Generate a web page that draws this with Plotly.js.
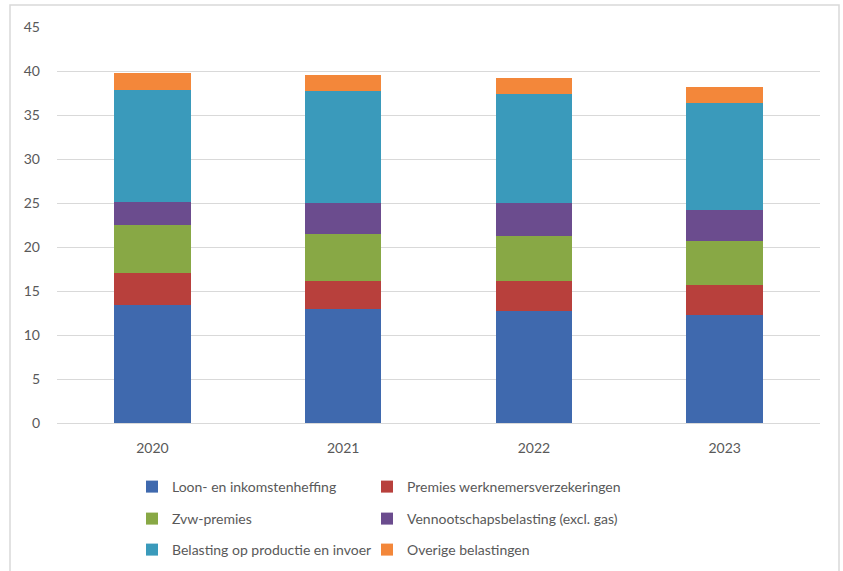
<!DOCTYPE html>
<html>
<head>
<meta charset="utf-8">
<script src="https://cdn.plot.ly/plotly-3.0.1.min.js"></script>
<style>html,body{margin:0;padding:0;background:#fff;}#chart{width:843px;height:571px;}</style>
</head>
<body>
<div id="chart"></div>
<script>
var years = ['2020', '2021', '2022', '2023'];
var loonInkomstenheffing = [13.4, 12.9, 12.7, 12.3];
var premiesWerknemersverzekeringen = [3.6, 3.2, 3.4, 3.35];
var zvwPremies = [5.45, 5.4, 5.1, 5.05];
var vennootschapsbelasting = [2.65, 3.5, 3.8, 3.5];
var belastingProductieInvoer = [12.7, 12.7, 12.4, 12.2];
var overigeBelastingen = [2.0, 1.9, 1.8, 1.8];
var yTicks = [0, 5, 10, 15, 20, 25, 30, 35, 40, 45];

var seriesNames = ['Loon- en inkomstenheffing', 'Premies werknemersverzekeringen', 'Zvw-premies',
  'Vennootschapsbelasting (excl. gas)', 'Belasting op productie en invoer', 'Overige belastingen'];
var seriesValues = [loonInkomstenheffing, premiesWerknemersverzekeringen, zvwPremies,
  vennootschapsbelasting, belastingProductieInvoer, overigeBelastingen];
var colors = ['#3F69AE', '#B8403C', '#88A845', '#6B4C8E', '#3A9ABB', '#F3873A'];
var legendIds = ['legend', 'legend2', 'legend3', 'legend4', 'legend5', 'legend6'];

var traces = seriesNames.map(function (n, i) {
  return {
    type: 'bar', name: n, x: years, y: seriesValues[i],
    marker: {color: colors[i], line: {width: 0}},
    legend: legendIds[i], hoverinfo: 'name+y'
  };
});

var font = {family: 'Lato, "Open Sans", sans-serif', size: 14, color: '#595959'};
function leg(textX, ypx) {
  return {
    orientation: 'v', x: (textX - 39 - 57) / 763, xanchor: 'left',
    y: (423 - ypx) / 396, yanchor: 'middle',
    font: {family: font.family, size: 14, color: '#595959'},
    bgcolor: 'rgba(0,0,0,0)', borderwidth: 0
  };
}

var layout = {
  width: 843, height: 571,
  margin: {l: 57, r: 23, t: 27, b: 148, autoexpand: false},
  barmode: 'stack', bargap: 0.6,
  paper_bgcolor: '#fff', plot_bgcolor: '#fff',
  font: font,
  showlegend: true,
  legend: leg(171, 487), legend2: leg(406, 487),
  legend3: leg(171, 519), legend4: leg(406, 519),
  legend5: leg(171, 550), legend6: leg(406, 550),
  xaxis: {
    type: 'category', showgrid: false, showline: false, zeroline: false,
    ticks: '', ticklabelstandoff: 15, tickfont: {family: font.family, size: 14, color: '#595959'}
  },
  yaxis: {
    range: [0, 45], tickvals: yTicks, showgrid: true, gridcolor: '#D9D9D9', gridwidth: 1,
    zeroline: true, zerolinecolor: '#D9D9D9', zerolinewidth: 1, showline: false,
    ticks: '', ticklabelstandoff: 16, tickfont: {family: font.family, size: 14, color: '#595959'},
    fixedrange: true
  },
  shapes: [{
    type: 'rect', xref: 'paper', yref: 'paper',
    x0: (10 - 57) / 763, x1: (839 - 57) / 763, y0: (423 - 580) / 396, y1: (423 - 5) / 396,
    line: {color: '#D9D9D9', width: 1.5}, fillcolor: 'rgba(0,0,0,0)', layer: 'below'
  }]
};

Plotly.newPlot('chart', traces, layout, {displayModeBar: false, staticPlot: true});
</script>
</body>
</html>
